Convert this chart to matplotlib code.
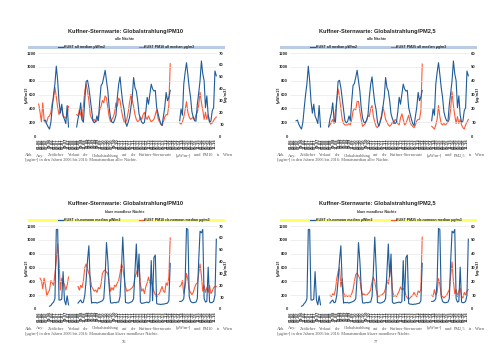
import matplotlib
matplotlib.use("Agg")
import matplotlib.pyplot as plt
from matplotlib.patches import Rectangle
from matplotlib.lines import Line2D
import numpy as np

N = None
# monthly medians, Jan 2006 .. Dec 2016 (one row per year)
rad_all = [N, N, N, N, 220, 230, 170, 130, 100, 200, 410, 600,
           760, 1010, 800, 500, 330, 460, 290, 240, 180, 440, 130, N,
           N, N, N, N, 130, 250, 330, 480, 230, 200, 520, 790,
           805, 700, 540, 370, 220, 190, 210, 290, 220, 500, 730, 760,
           850, 950, 800, 650, 410, 260, 200, 190, 230, 300, 560, 750,
           855, 650, 480, 380, 200, 140, 200, 270, 420, 560, 845, 700,
           650, 510, 320, 250, 200, 180, 200, 350, 560, 460, 600, 750,
           680, 650, 660, 410, 330, 245, 180, 150, 280, 420, 630, 510,
           560, 660, N, N, N, N, N, N, 220, 390, 300, 750,
           920, 1060, 890, 700, 560, 350, 270, 220, 215, 460, 620, 800,
           1085, 900, 800, 410, 580, 300, 200, 215, 365, 410, 940, 870]
pm10_all = [27, 20, 12, 28, 14, 11, 12, 16, 17, 20, 28, 32,
            41, 33, 24, 18, 22, 24, 17, 16, 15, 17, 25, N,
            N, N, N, N, 18, 17, 22, 18, 14, 26, 38, 44,
            38, 30, 18, 15, 13, 14, 12, 13, 15, 22, 25, 30,
            28, 34, 32, 24, 16, 12, 14, 16, 20, 28, 25, 32,
            30, 22, 16, 12, 11, 14, 20, 28, 35, 30, 25, 18,
            14, 12, 13, 16, 14, 18, 20, 16, 14, 17, 14, 12,
            13, 14, 18, 22, 15, 12, 10, 9, 12, 16, 18, 18,
            26, 61, N, N, N, N, N, N, 11, 10, 12, 16,
            22, 29, 20, 16, 14, 15, 16, 13, 18, 20, 26, 37,
            28, 22, 14, 20, 14, 18, 12, 10, 11, 13, 15, 16]
pm25_all = [N, N, N, N, N, N, N, N, N, N, N, N,
            N, N, N, N, N, N, N, N, N, N, N, N,
            N, N, N, N, 7, 8, 10, 12, 9, 18, 26, 34,
            28, 20, 12, 9, 8, 8, 8, 9, 8, 12, 18, 20,
            19, 25, 25, 18, 12, 7, 8, 9, 11, 15, 14, 20,
            22, 14, 10, 7, 6, 8, 11, 15, 21, 17, 12, 10,
            8, 7, 8, 10, 9, 12, 11, 9, 8, 13, 16, 12,
            8, 9, 12, 15, 10, 8, 7, 6, 8, 11, 12, 12,
            18, 52, N, N, N, N, N, N, 7, 6, 5, 8,
            12, 22, 14, 9, 8, 9, 8, 9, 10, 12, 20, 32,
            22, 15, 9, 14, 9, 12, 8, 6, 5, 8, 10, 12]
rad_clr = [N, N, N, N, N, N, N, N, 40, 50, 80, 100,
           150, 1150, 1150, 130, 130, 140, 540, 130, 60, 190, 60, N,
           N, N, N, N, N, 85, 110, 130, 90, 100, 200, 415,
           700, 915, 370, 85, 95, 90, 95, 85, 95, 100, 110, 120,
           150, 465, 960, 700, 320, 90, 85, 90, 95, 90, 100, 100,
           180, 560, 1040, 605, 95, 90, 85, 90, 100, 110, 150, 560,
           940, 465, 795, 100, 80, 85, 90, 95, 100, 90, 110, 700,
           120, 745, 780, 80, 70, 70, 65, 70, 70, 75, 80, 85,
           120, 660, N, N, N, N, N, N, 110, 110, 120, 150,
           400, 1165, 1150, 180, 110, 95, 90, 95, 100, 150, 700, 1125,
           1100, 1150, 150, 100, 110, 605, 100, 90, 95, 110, 200, 1010]
pm10_clr = [N, 26, 24, 17, 26, 20, 11, 14, 16, 24, 22, 20,
            30, 41, 55, 41, 16, 26, 22, 21, 16, 20, 27, N,
            N, N, N, N, N, 19, 16, 20, 18, 24, 35, 38,
            34, 30, 27, 19, 17, 15, 16, 14, 18, 17, 21, 30,
            32, 33, 31, 30, 22, 15, 18, 16, 20, 19, 22, 24,
            30, 38, 35, 27, 19, 15, 16, 16, 17, 18, 20, 27,
            30, 34, 37, 21, 15, 17, 13, 19, 22, 27, 22, 24,
            19, 15, 12, 10, 12, 13, 16, 19, 15, 14, 22, 20,
            27, 60, N, N, N, N, N, N, 19, 20, 24, 13,
            19, 30, 25, 16, 14, 12, 14, 18, 21, 22, 30, 38,
            28, 15, 20, 14, 18, 14, 20, 13, 15, 18, 19, 19]
pm25_clr = [N, N, N, N, N, N, N, N, N, N, N, N,
            N, N, N, N, N, N, N, N, N, N, N, N,
            N, N, N, N, N, 10, 9, 11, 10, 14, 22, 27,
            30, 16, 22, 12, 9, 10, 9, 10, 9, 11, 14, 20,
            25, 26, 24, 22, 14, 10, 11, 10, 10, 11, 12, 14,
            20, 23, 20, 14, 10, 9, 10, 10, 11, 12, 15, 21,
            18, 25, 31, 14, 9, 10, 9, 11, 13, 16, 14, 15,
            13, 10, 8, 7, 8, 9, 10, 12, 10, 9, 13, 12,
            14, 52, N, N, N, N, N, N, 10, 9, 14, 10,
            12, 22, 18, 10, 9, 8, 9, 10, 12, 14, 24, 34,
            20, 11, 14, 9, 13, 15, 9, 8, 12, 10, 13, 14]

month_labels = [f"{m:02d}.{y:02d}" for y in range(6, 17) for m in range(1, 13)]

BLUE = "#1f5c99"
RED = "#ff5a33"
W, H = 504, 356

fig = plt.figure(figsize=(W / 100, H / 100), dpi=100)
fig.patch.set_facecolor("white")


def fx(x):
    return x / W


def fy(y):
    return 1 - y / H


def ftext(x, y, s, **kw):
    return fig.text(fx(x), fy(y), s, **kw)


def justified(x0, x1, y, line, size):
    words = line.split()
    objs = [ftext(x0, y, w, fontsize=size, family="Liberation Serif",
                  color="#555555", va="baseline") for w in words]
    r = fig.canvas.get_renderer()
    widths = [o.get_window_extent(r).width for o in objs]
    gap = (x1 - x0 - sum(widths)) / (len(words) - 1)
    pos = x0
    for o, wd in zip(objs, widths):
        o.set_x(fx(pos))
        pos += wd + gap


def panel(ox, oy, title, sub, bar_color, lab1, lab2, rad, pm, pm_max, cap1, cap2, page):
    # axes box in pixels
    x0, x1 = ox + 38, ox + 217
    y0, y1 = oy + 53, oy + 136
    ftext(ox + 125, oy + 31, title, fontsize=4.1, weight="bold",
          family="Liberation Sans", ha="center", va="center", color="#222222")
    ftext(ox + 125, oy + 39, sub, fontsize=2.6, weight="bold",
          family="Liberation Sans", ha="center", va="center", color="#333333")
    fig.patches.append(Rectangle((fx(ox + 27.5), fy(oy + 49.2)), fx(197.5), 3.6 / H,
                                 transform=fig.transFigure, facecolor=bar_color,
                                 edgecolor="none"))
    for lx, col, lab in [(ox + 58, BLUE, lab1), (ox + 139, RED, lab2)]:
        fig.lines.append(Line2D([fx(lx), fx(lx + 5)], [fy(oy + 47.4)] * 2,
                                transform=fig.transFigure, color=col, lw=0.8))
        ftext(lx + 5.5, oy + 47.4, lab, fontsize=2.5, weight="bold",
              family="Liberation Sans", va="center", color="#222222")

    ax = fig.add_axes([fx(x0), fy(y1), fx(x1 - x0), (y1 - y0) / H])
    ax2 = ax.twinx()
    x = np.arange(len(rad))
    r = np.array([np.nan if v is None else v for v in rad], dtype=float)
    p = np.array([np.nan if v is None else v for v in pm], dtype=float)
    ax.plot(x, r, color=BLUE, lw=0.8, zorder=3)
    ax2.plot(x, p, color=RED, lw=0.8)
    ax.set_zorder(ax2.get_zorder() + 1)
    ax.patch.set_visible(False)

    ax.set_xlim(-0.5, len(rad) - 0.5)
    ax.set_ylim(0, 1200)
    ax.set_yticks(np.arange(0, 1201, 200))
    ax2.set_ylim(0, pm_max)
    ax2.set_yticks(np.arange(0, pm_max + 1, 10))
    ax.set_xticks(x[::2])
    ax.set_xticklabels(month_labels[::2], rotation=90, fontsize=1.7, weight="bold")
    ax.grid(axis="y", color="#e4e4e4", lw=0.4)
    for a in (ax, ax2):
        for s in a.spines.values():
            s.set_visible(False)
        a.tick_params(length=0, pad=1.5, labelsize=2.4, colors="#333333")
    for t in ax.get_yticklabels() + ax2.get_yticklabels():
        t.set_fontweight("bold")
    ftext(ox + 27, (y0 + y1) / 2, "[µW/m2]", fontsize=2.4, weight="bold",
          rotation=90, ha="center", va="center", color="#333333")
    ftext(ox + 226, (y0 + y1) / 2, "[µg/m3]", fontsize=2.4, weight="bold",
          rotation=90, ha="center", va="center", color="#333333")

    justified(ox + 25, ox + 232, oy + 156.5, cap1, 3.1)
    ftext(ox + 25, oy + 161.5, cap2, fontsize=3.1, family="Liberation Serif",
          color="#555555", va="baseline")
    if page:
        ftext(ox + 124, oy + 169, page, fontsize=3.2, family="Liberation Serif",
              ha="center", va="center", color="#444444")


cap_a = "Abb. Axy: Zeitlicher Verlauf der Globalstrahlung auf der Kuffner-Sternwarte [µW/m²] und {} in Wien"
tail_all = "[µg/m³] in den Jahren 2006 bis 2016: Monatsmedian aller Nächte."
tail_clr = "[µg/m³] in den Jahren 2006 bis 2016: Monatsmedian klarer mondloser Nächte."

panel(0, 0, "Kuffner-Sternwarte: Globalstrahlung/PM10", "alle Nächte", "#b9cce4",
      "KUST all median µW/m2", "KUST PM10 all median µg/m3",
      rad_all, pm10_all, 70, cap_a.format("PM10"), tail_all, None)
panel(252, 0, "Kuffner-Sternwarte: Globalstrahlung/PM2,5", "alle Nächte", "#b9cce4",
      "KUST all median µW/m2", "KUST PM25 all median µg/m3",
      rad_all, pm25_all, 60, cap_a.format("PM2,5"), tail_all, None)
panel(0, 173, "Kuffner-Sternwarte: Globalstrahlung/PM10", "klare mondlose Nächte", "#ffff66",
      "KUST clr-nomoon median µW/m2", "KUST PM10 clr-nomoon median µg/m3",
      rad_clr, pm10_clr, 70, cap_a.format("PM10"), tail_clr, "76")
panel(252, 173, "Kuffner-Sternwarte: Globalstrahlung/PM2,5", "klare mondlose Nächte", "#ffff66",
      "KUST clr-nomoon median µW/m2", "KUST PM25 clr-nomoon median µg/m3",
      rad_clr, pm25_clr, 60, cap_a.format("PM2,5"), tail_clr, "77")

fig.savefig("out.png", dpi=100, facecolor="white")
